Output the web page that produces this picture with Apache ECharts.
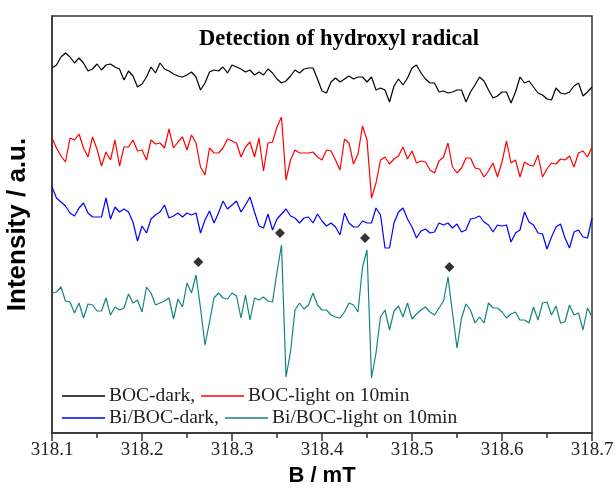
<!DOCTYPE html>
<html>
<head>
<meta charset="utf-8">
<script src="https://cdn.jsdelivr.net/npm/echarts@6/dist/echarts.min.js"></script>
<style>html,body{margin:0;padding:0;background:#fff;}#c{width:615px;height:490px;}</style>
</head>
<body>
<div id="c"></div>
<script>
// Field grid (mT): uniform sampling from the start field
const bStart = 318.1;
const bStep = 0.005;
const xTicks = ['318.1','318.2','318.3','318.4','318.5','318.6','318.7'];

const seriesNames = ['BOC-dark,', 'BOC-light on 10min', 'Bi/BOC-dark,', 'Bi/BOC-light on 10min'];

// Intensity (a.u., stacked offsets included)
const bocDark = [365,368,376,380,376,370,375,370,362,364, 369,363,368,369,366,364,353,362,357,346,
  349,356,366,360,370,364,362,359,357,356, 358,361,356,343,350,361,363,362,366,360,
  368,366,364,361,363,358,361,358,364,360, 354,350,352,357,363,360,364,365,365,354,
  342,340,351,355,351,354,357,354,356,356, 351,356,343,345,343,331,347,354,348,355,
  365,368,360,354,350,350,341,342,340,341, 343,343,331,341,348,356,352,343,335,337,
  341,341,330,341,356,350,352,346,340,338, 334,333,345,340,339,341,347,350,337,341,346];

const bocLight = [295,285,277,271,295,293,299,285,276,296, 284,267,281,273,293,267,286,286,293,282,
  283,273,293,289,290,285,304,285,291,296, 283,298,290,266,258,285,280,280,285,294,
  292,290,276,286,291,276,295,262,290,291, 306,316,253,273,283,280,280,280,281,276,
  273,283,282,273,263,294,290,269,279,307, 293,235,250,273,276,269,274,277,286,274,
  282,270,272,271,263,260,272,276,290,266, 260,265,275,275,265,264,256,262,270,256,
  271,292,270,273,256,271,268,267,278,256, 264,270,269,274,273,277,266,280,282,276,286];

const biDark = [246,235,231,227,220,217,225,230,220,216, 216,216,235,214,226,221,224,221,211,192,
  207,200,214,218,221,228,215,217,220,216, 220,218,220,200,213,222,210,220,232,224,
  228,232,221,228,236,221,207,205,219,203, 214,219,224,217,215,210,215,216,210,219,
  212,207,210,206,198,220,210,206,206,212, 210,210,225,218,185,185,210,221,225,214,
  206,195,202,204,200,201,210,208,210,205, 209,201,203,214,215,217,211,208,201,208,
  207,208,191,200,203,221,211,208,200,199, 184,196,206,209,195,185,201,203,196,195,215];

const biLight = [140,141,146,132,131,120,130,115,129,128, 122,122,135,118,126,123,125,139,130,133,
  121,146,140,128,130,132,135,114,134,126, 150,140,158,125,88,111,135,140,135,134,
  140,137,115,138,113,135,133,136,132,131, 161,188,56,81,123,130,124,128,140,128,
  123,123,118,116,115,121,130,128,121,166, 183,55,80,116,123,103,122,127,116,130,
  114,119,123,126,121,118,125,132,156,120, 85,115,129,123,110,116,110,130,125,125,
  121,115,119,121,113,113,110,126,113,130, 131,118,127,110,111,128,118,120,103,125,116];

// DMPO-OH quartet markers (field, intensity)
const markerB = [318.2626, 318.3533, 318.4478, 318.5415];
const markerI = [171, 200, 195, 166];

const colors = ['#000000', '#ff0000', '#0000ff', '#12857f'];
const toPairs = arr => arr.map((v, i) => [+(bStart + i * bStep).toFixed(4), v]);
const allData = [bocDark, bocLight, biDark, biLight];

const serif = "'Liberation Serif','Times New Roman',serif";
const sans = "'Liberation Sans',Arial,sans-serif";

const chart = echarts.init(document.getElementById('c'), null, {renderer: 'canvas'});
const series = allData.map((d, k) => ({
  name: seriesNames[k], type: 'line', data: toPairs(d), showSymbol: false, symbol: 'none',
  lineStyle: {color: colors[k], width: 1.2}, itemStyle: {color: colors[k]}, animation: false, z: 2
}));
series.push({
  name: 'markers', type: 'scatter', symbol: 'diamond', symbolSize: 10,
  data: markerB.map((b, i) => [b, markerI[i]]), itemStyle: {color: '#000'}, animation: false, z: 3
});

const legendText = {fontSize: 19.5, fontFamily: serif, color: '#222', padding: [0,0,0,-1]};

chart.setOption({
  animation: false,
  grid: {left: 52, right: 23, top: 16, bottom: 57, show: true, borderColor: '#333', borderWidth: 1.5,
    containLabel: false, outerBoundsMode: 'none'},
  graphic: [{type: 'text', style: {text: 'Detection of hydroxyl radical',
    font: "bold 22.5px " + serif, fill: '#000', x: 339, y: 39, textAlign: 'center', textVerticalAlign: 'middle'}}],
  legend: [
    {data: [seriesNames[0], seriesNames[1]], left: 62, top: 386, orient: 'horizontal', icon: 'rect',
     itemWidth: 43, itemHeight: 1.5, itemGap: 6, padding: 0, textStyle: legendText},
    {data: [seriesNames[2], seriesNames[3]], left: 62, top: 408, orient: 'horizontal', icon: 'rect',
     itemWidth: 43, itemHeight: 1.5, itemGap: 6, padding: 0, textStyle: legendText}
  ],
  xAxis: {
    type: 'value', min: 318.1, max: 318.7, interval: 0.1,
    name: 'B / mT', nameLocation: 'middle', nameGap: 27,
    nameTextStyle: {fontSize: 22, fontWeight: 'bold', fontFamily: sans, color: '#000'},
    axisLine: {show: true, lineStyle: {color: '#333', width: 1.5}},
    axisTick: {show: true, inside: false, length: 8, lineStyle: {color: '#333', width: 1.5}},
    minorTick: {show: true, splitNumber: 2, length: 5, lineStyle: {color: '#333', width: 1.5}},
    splitLine: {show: false},
    axisLabel: {fontSize: 19, fontFamily: serif, color: '#222', margin: 8,
      formatter: v => { const s = v.toFixed(1); return xTicks.indexOf(s) >= 0 ? s : ''; }}
  },
  yAxis: {
    type: 'value', min: 0, max: 417,
    name: 'Intensity / a.u.', nameLocation: 'middle', nameGap: 21,
    nameTextStyle: {fontSize: 26, fontWeight: 'bold', fontFamily: sans, color: '#000'},
    axisLine: {show: true, lineStyle: {color: '#333', width: 1.5}},
    axisTick: {show: false}, axisLabel: {show: false}, splitLine: {show: false}
  },
  series: series
});
</script>
</body>
</html>
